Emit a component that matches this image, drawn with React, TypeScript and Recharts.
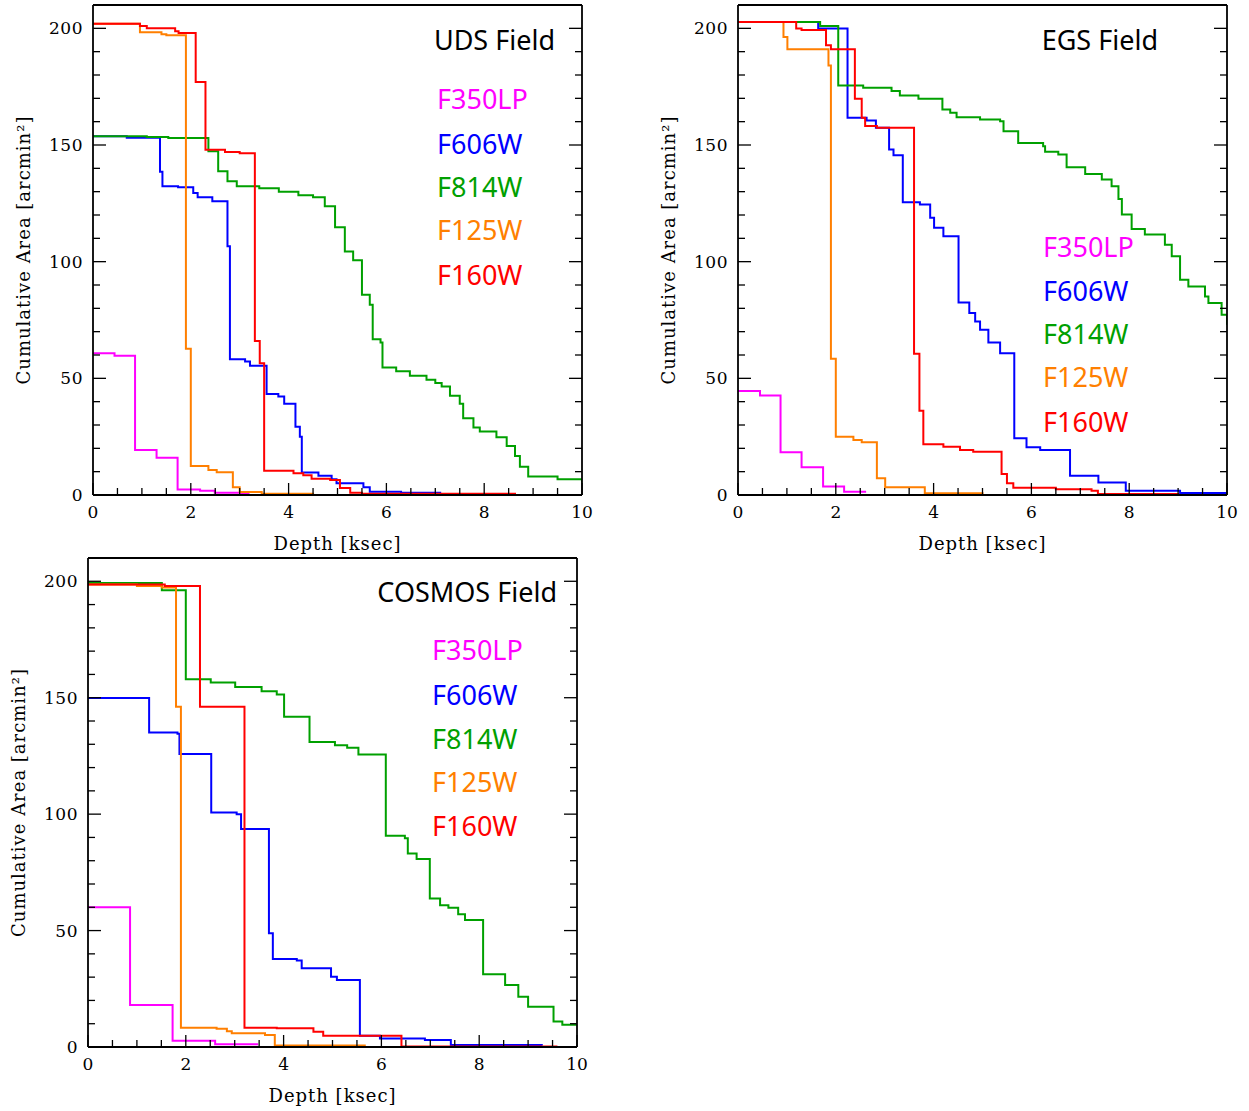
import { LineChart, Line, XAxis, YAxis } from "recharts";

type Pt = [number, number];

// ---- UDS field: [depth ksec, cumulative area arcmin^2] ----
const udsF350LP: Pt[] = [[0, 60.8], [0.44, 59.7], [0.86, 19.3], [1.3, 16], [1.73, 2.4], [2.19, 1.8], [2.49, 1.0], [3.04, 0.4], [3.2, 0.4]];
const udsF606W: Pt[] = [[0, 153.8], [0.69, 153.1], [1.37, 138.5], [1.42, 132.3], [1.74, 131.9], [2.05, 129.4], [2.14, 127.6], [2.44, 125.9], [2.75, 106.6], [2.8, 58.2], [3.11, 57.2], [3.21, 55.4], [3.55, 43.3], [3.79, 42.2], [3.91, 39.1], [4.14, 29.3], [4.23, 25], [4.27, 9.6], [4.61, 8.3], [4.88, 6.7], [4.98, 5], [5.53, 3.3], [5.66, 1.4], [6.3, 1], [7.1, 0.4]];
const udsF814W: Pt[] = [[0, 153.8], [1.1, 153.4], [1.54, 153], [2.36, 147.3], [2.56, 138.8], [2.75, 134.5], [2.94, 132.3], [3.4, 131.5], [3.8, 130], [4.2, 128.5], [4.5, 127.6], [4.74, 123.7], [4.95, 114.7], [5.15, 104.4], [5.32, 100.6], [5.5, 85.8], [5.66, 81.5], [5.72, 66.8], [5.88, 65.4], [5.92, 54.6], [6.2, 53], [6.48, 51.1], [6.82, 49.4], [7.0, 48], [7.13, 46.5], [7.3, 42.5], [7.5, 39.1], [7.57, 32.9], [7.78, 28.9], [7.91, 27.2], [8.25, 24.8], [8.46, 21], [8.63, 16.7], [8.73, 12.1], [8.9, 7.9], [9.5, 6.8], [10, 5.3]];
const udsF125W: Pt[] = [[0, 202], [0.96, 198.3], [1.4, 197.5], [1.5, 197], [1.9, 62.7], [2.0, 12.4], [2.36, 10.7], [2.53, 9.7], [2.86, 3.3], [3.0, 1.3], [3.45, 0.5], [4.5, 0.2]];
const udsF160W: Pt[] = [[0, 202], [0.96, 201], [1.1, 200], [1.68, 198.7], [1.75, 198], [2.1, 177], [2.3, 148], [2.7, 147], [3.0, 146.5], [3.31, 66], [3.41, 56.5], [3.5, 10.4], [4.1, 9.3], [4.3, 8.5], [4.47, 7], [4.85, 6.4], [5.05, 3], [5.26, 1], [5.5, 0.5], [8.63, 0.2]];

// ---- EGS field ----
const egsF350LP: Pt[] = [[0, 44.6], [0.45, 42.6], [0.87, 18.3], [1.3, 11.9], [1.74, 3.6], [2.17, 1.4], [2.62, 1.4]];
const egsF606W: Pt[] = [[0, 202.7], [1.64, 199.9], [2.24, 161.7], [2.63, 160.5], [2.82, 157.4], [3.09, 148.1], [3.18, 145.6], [3.37, 125.5], [3.72, 124.5], [3.93, 118.8], [4.01, 114.5], [4.2, 110.9], [4.51, 82.5], [4.73, 78], [4.85, 74.4], [4.95, 70.8], [5.12, 65.4], [5.36, 60.8], [5.65, 24.3], [5.9, 20.5], [6.18, 19.3], [6.79, 8.3], [7.37, 5.4], [7.93, 1.8], [9.04, 0.9], [10, 0.5]];
const egsF814W: Pt[] = [[0, 202.7], [1.68, 201], [2.05, 175.5], [2.56, 174.5], [3.14, 173.1], [3.31, 171.2], [3.69, 169.8], [4.18, 165.2], [4.34, 163.8], [4.47, 161.9], [4.95, 160.9], [5.36, 160.2], [5.43, 155.9], [5.73, 150.9], [6.24, 149.5], [6.28, 147.1], [6.55, 145.9], [6.72, 140.5], [7.1, 137.6], [7.44, 135.2], [7.64, 132.3], [7.78, 126.9], [7.85, 120.2], [8.05, 114], [8.32, 111.6], [8.73, 107.3], [8.87, 102.3], [9.04, 92.3], [9.21, 89.4], [9.55, 85.1], [9.62, 82.3], [9.89, 77.3], [10, 73]];
const egsF125W: Pt[] = [[0, 202.7], [0.93, 196.3], [1.01, 191], [1.85, 184.1], [1.9, 58.4], [2.0, 25], [2.36, 23.6], [2.53, 22.6], [2.84, 7.2], [3.01, 3.3], [3.82, 0.7], [5.0, 0.3]];
const egsF160W: Pt[] = [[0, 202.7], [1.19, 199.9], [1.3, 199.3], [1.8, 192.7], [1.9, 191], [2.39, 169.8], [2.53, 161.7], [2.6, 158.1], [2.84, 157.4], [3.6, 60.5], [3.71, 36.1], [3.79, 21.8], [4.2, 20.7], [4.54, 19.3], [4.81, 18.5], [5.39, 9], [5.5, 5], [5.63, 3.1], [6.5, 2.5], [7.23, 1.8], [7.36, 0.4], [9.0, 0.2]];

// ---- COSMOS field ----
const cosF350LP: Pt[] = [[0, 60], [0.86, 18], [1.73, 2.7], [2.6, 1.2], [3.48, 1.2]];
const cosF606W: Pt[] = [[0, 149.9], [1.25, 135.1], [1.83, 134.5], [1.87, 125.8], [2.52, 100.7], [3.04, 100], [3.13, 93.6], [3.7, 48.8], [3.78, 37.8], [4.27, 37.2], [4.37, 33.8], [4.97, 30.2], [5.09, 28.8], [5.56, 4.8], [5.97, 3.7], [6.89, 3], [7.42, 0.9], [9.28, 0.5]];
const cosF814W: Pt[] = [[0, 199.3], [1.51, 196.1], [2.0, 157.9], [2.51, 156.5], [3.01, 154.6], [3.55, 152.8], [3.86, 151.4], [4.01, 141.8], [4.53, 131], [5.05, 129.6], [5.3, 128.5], [5.53, 125.6], [6.09, 90.7], [6.48, 89.6], [6.54, 83.1], [6.72, 80.7], [6.99, 63.8], [7.2, 60.9], [7.37, 59.8], [7.57, 57], [7.71, 54.5], [8.08, 31.2], [8.53, 26.6], [8.8, 21.6], [9.0, 17.3], [9.52, 10.9], [9.7, 9.6], [10, 9.4]];
const cosF125W: Pt[] = [[0, 198.6], [1.0, 198], [1.51, 197.3], [1.8, 146.1], [1.9, 8.3], [2.63, 7.8], [2.84, 6.8], [2.94, 5.9], [3.62, 5.2], [3.82, 0.6], [5.66, 0.4]];
const cosF160W: Pt[] = [[0, 198.6], [1.57, 198], [2.29, 146.1], [3.2, 8.3], [3.86, 8], [4.61, 6.6], [4.81, 4.8], [6.41, 0.2], [9.6, 0.2]];

const filterNames = ["F350LP", "F606W", "F814W", "F125W", "F160W"];
const filterColors = ["#ff00ff", "#0000ff", "#00a000", "#ff7f00", "#ff0000"];

const xTicks = [0, 0.5, 1, 1.5, 2, 2.5, 3, 3.5, 4, 4.5, 5, 5.5, 6, 6.5, 7, 7.5, 8, 8.5, 9, 9.5, 10];
const yTicks = [0, 10, 20, 30, 40, 50, 60, 70, 80, 90, 100, 110, 120, 130, 140, 150, 160, 170, 180, 190, 200];

const tickFont = "'DejaVu Serif', serif";
const labelFont = "'Noto Sans', sans-serif";
const frame = { stroke: "#000", strokeWidth: 1.8 };

const BottomTick = (p: any) => {
  const v = p.payload.value;
  const major = v % 2 === 0;
  return (
    <g>
      <line x1={p.x} y1={p.y} x2={p.x} y2={p.y - (major ? 12 : 7)} stroke="#000" strokeWidth={1.3} />
      {major && (
        <text x={p.x} y={p.y + 17} dy="0.35em" textAnchor="middle" fontFamily={tickFont} fontSize={17} fill="#000">
          {v}
        </text>
      )}
    </g>
  );
};

const TopTick = (p: any) => {
  const major = p.payload.value % 2 === 0;
  return <line x1={p.x} y1={p.y} x2={p.x} y2={p.y + (major ? 12 : 7)} stroke="#000" strokeWidth={1.3} />;
};

const LeftTick = (p: any) => {
  const v = p.payload.value;
  const major = v % 50 === 0;
  return (
    <g>
      <line x1={p.x} y1={p.y} x2={p.x + (major ? 13 : 7)} y2={p.y} stroke="#000" strokeWidth={1.3} />
      {major && (
        <text x={p.x - 10} y={p.y} dy="0.35em" textAnchor="end" fontFamily={tickFont} fontSize={17} letterSpacing={0.5} fill="#000">
          {v}
        </text>
      )}
    </g>
  );
};

const RightTick = (p: any) => {
  const major = p.payload.value % 50 === 0;
  return <line x1={p.x} y1={p.y} x2={p.x - (major ? 13 : 7)} y2={p.y} stroke="#000" strokeWidth={1.3} />;
};

type PanelProps = {
  left: number;
  top: number;
  width: number;
  height: number;
  margin: { top: number; right: number; bottom: number; left: number };
  series: Pt[][];
};

// axes are 1px thick (an axis of size 0 is not drawn), margins account for that
function FieldPanel({ left, top, width, height, margin, series }: PanelProps) {
  return (
    <div style={{ position: "absolute", left, top }}>
      <LineChart width={width} height={height} margin={margin}>
        <XAxis
          xAxisId="b"
          type="number"
          dataKey="x"
          domain={[0, 10]}
          ticks={xTicks}
          interval={0}
          allowDataOverflow
          height={1}
          tickSize={0}
          tickMargin={0}
          tickLine={false}
          axisLine={frame}
          tick={BottomTick}
          label={{ value: "Depth [ksec]", position: "bottom", offset: 41, fontFamily: tickFont, fontSize: 18, letterSpacing: 1, fill: "#000" }}
        />
        <XAxis
          xAxisId="t"
          orientation="top"
          type="number"
          domain={[0, 10]}
          ticks={xTicks}
          interval={0}
          allowDataOverflow
          height={1}
          tickSize={0}
          tickMargin={0}
          tickLine={false}
          axisLine={frame}
          tick={TopTick}
        />
        <YAxis
          yAxisId="l"
          type="number"
          domain={[0, 210]}
          ticks={yTicks}
          interval={0}
          allowDataOverflow
          width={1}
          tickSize={0}
          tickMargin={0}
          tickLine={false}
          axisLine={frame}
          tick={LeftTick}
          label={{ value: "Cumulative Area [arcmin²]", angle: -90, position: "left", offset: 68, fontFamily: tickFont, fontSize: 18, letterSpacing: 1, fill: "#000", style: { textAnchor: "middle" } }}
        />
        <YAxis
          yAxisId="r"
          orientation="right"
          type="number"
          domain={[0, 210]}
          ticks={yTicks}
          interval={0}
          allowDataOverflow
          width={1}
          tickSize={0}
          tickMargin={0}
          tickLine={false}
          axisLine={frame}
          tick={RightTick}
        />
        {series.map((pts, i) => (
          <Line
            key={filterNames[i]}
            xAxisId="b"
            yAxisId="l"
            data={pts.map(([x, y]) => ({ x, y }))}
            dataKey="y"
            type="stepAfter"
            stroke={filterColors[i]}
            strokeWidth={2}
            dot={false}
            isAnimationActive={false}
          />
        ))}
      </LineChart>
    </div>
  );
}

function Annotations({ title, titleX, titleY, legendX, legendY }: { title: string; titleX: number; titleY: number; legendX: number; legendY: number[] }) {
  return (
    <g fontFamily={labelFont}>
      <text x={titleX} y={titleY} dy="0.35em" textAnchor="end" fontSize={27} fill="#000">
        {title}
      </text>
      {filterNames.map((f, i) => (
        <text key={f} x={legendX} y={legendY[i]} dy="0.35em" fontSize={27} fill={filterColors[i]}>
          {f}
        </text>
      ))}
    </g>
  );
}

export default function App() {
  return (
    <div>
      <FieldPanel left={0} top={0} width={600} height={560} margin={{ top: 4, right: 17, bottom: 64, left: 92 }}
        series={[udsF350LP, udsF606W, udsF814W, udsF125W, udsF160W]} />
      <FieldPanel left={645} top={0} width={600} height={560} margin={{ top: 4, right: 17, bottom: 64, left: 92 }}
        series={[egsF350LP, egsF606W, egsF814W, egsF125W, egsF160W]} />
      <FieldPanel left={0} top={553} width={600} height={555} margin={{ top: 4, right: 22, bottom: 60, left: 87 }}
        series={[cosF350LP, cosF606W, cosF814W, cosF125W, cosF160W]} />
      <svg width={1249} height={1111} style={{ position: "absolute", left: 0, top: 0, pointerEvents: "none" }}>
        <Annotations title="UDS Field" titleX={555} titleY={41} legendX={437} legendY={[100, 145, 188, 231, 276]} />
        <Annotations title="EGS Field" titleX={1158} titleY={41} legendX={1043} legendY={[248, 292, 335, 378, 423]} />
        <Annotations title="COSMOS Field" titleX={557} titleY={593} legendX={432} legendY={[651, 696, 740, 783, 827]} />
      </svg>
    </div>
  );
}
